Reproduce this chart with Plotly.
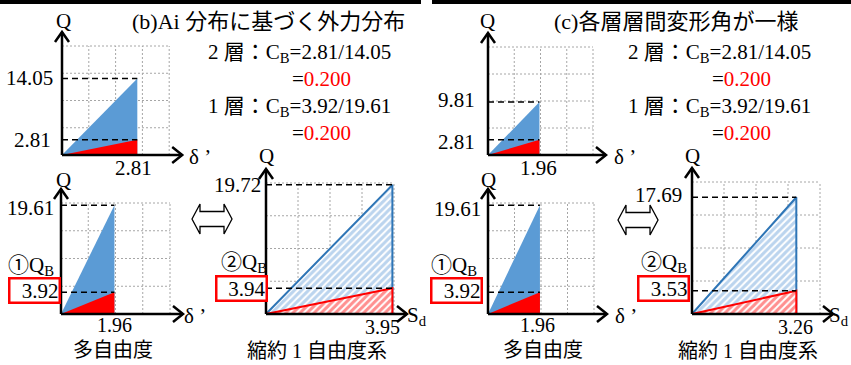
import plotly.graph_objects as go

W, H = 851, 365

# ---- values -------------------------------------------------------------
# panel order: (b) 2F, (b) 1F, (b) reduced SDOF, (c) 2F, (c) 1F, (c) reduced SDOF
disp_values = [2.81, 1.96, 3.95, 1.96, 1.96, 3.26]
shear_total = [14.05, 19.61, 19.72, 9.81, 19.61, 17.69]
shear_base = [2.81, 3.92, 3.94, 2.81, 3.92, 3.53]
x_names = ["δ ’", "δ ’", "S<sub>d</sub>", "δ ’", "δ ’", "S<sub>d</sub>"]
base_tags = [None, "①Q<sub>B</sub>", "②Q<sub>B</sub>", None, "①Q<sub>B</sub>", "②Q<sub>B</sub>"]
captions = [None, "多自由度", "縮約 1 自由度系", None, "多自由度", "縮約 1 自由度系"]
hatched = [False, False, True, False, False, True]
boxed = [False, True, True, False, True, True]

titles = ["(b)Ai 分布に基づく外力分布", "(c)各層層間変形角が一様"]
cb_story = ["2 層", "1 層"]
cb_num = [2.81, 3.92]
cb_den = [14.05, 19.61]

grid_x = [1, 2, 3, 4]
grid_y = [5, 10, 15, 20]
BOX_X, BOX_Y = 4, 20

# ---- panel placement (pixels) ------------------------------------------
geom = [
    dict(ox=62, oy=155, sx=26.8, sy=5.45, q=(63, 21), tot=(-7, 0), base=(-9, 0),
         dsp=(-4, -13), dsz=21, xn=(187, 157)),
    dict(ox=61, oy=314, sx=27.25, sy=5.55, q=(63, 180), tot=(-5, -3), base=(0, 1.5),
         dsp=(0, -11), dsz=20, xn=(182, 316), tag=(31, 266), cap=(113, 350)),
    dict(ox=266, oy=314, sx=32.0, sy=6.55, q=(266, 156), tot=(-3, 0), base=(2, 0),
         dsp=(-10, -13), dsz=20, xn=(405, 316), tag=(244, 263), cap=(317, 351)),
    dict(ox=488, oy=155, sx=26.25, sy=5.4, q=(487, 21), tot=(-11, 2), base=(-11, -2),
         dsp=(-1, -13), dsz=21, xn=(612, 157)),
    dict(ox=488, oy=314, sx=26.5, sy=5.55, q=(488, 180), tot=(-5, -4), base=(-5, 1.5),
         dsp=(-2, -11), dsz=20, xn=(613, 316), tag=(454, 266), cap=(543, 350)),
    dict(ox=692, oy=314, sx=32.0, sy=6.6, q=(692, 156), tot=(-8, 2), base=(-2, 2),
         dsp=(-1, -13), dsz=20, xn=(827, 316), tag=(664, 263), cap=(748, 351)),
]

FONT = "'Times New Roman', 'Liberation Serif', 'Noto Sans CJK JP', serif"
TICK_SIZE = 21
TEXT_SIZE = 21
TITLE_SIZE = 22
CAPTION_SIZE = 20
BLUE = "#5B9BD5"
RED = "#FF0000"

fig = go.Figure()
axes_layout = {}
annotations = []
shapes = []


def paper_ann(px, py, text, xanchor="left", size=TEXT_SIZE, color="black"):
    annotations.append(dict(
        x=px / W, y=1 - py / H, xref="paper", yref="paper", text=text,
        showarrow=False, xanchor=xanchor, yanchor="middle",
        font=dict(family=FONT, size=size, color=color)))


for i, g in enumerate(geom):
    n = i + 1
    xa = "x" if n == 1 else f"x{n}"
    ya = "y" if n == 1 else f"y{n}"
    ox, oy, sx, sy = g["ox"], g["oy"], g["sx"], g["sy"]
    L = ox - 14
    R = ox + BOX_X * sx + 22
    T = oy - BOX_Y * sy - 20
    B = oy + 12
    axes_layout["xaxis" if n == 1 else f"xaxis{n}"] = dict(
        domain=[L / W, R / W], range=[(L - ox) / sx, (R - ox) / sx],
        visible=False, fixedrange=True, anchor=ya)
    axes_layout["yaxis" if n == 1 else f"yaxis{n}"] = dict(
        domain=[1 - B / H, 1 - T / H], range=[(oy - B) / sy, (oy - T) / sy],
        visible=False, fixedrange=True, anchor=xa)

    d, qt, qb = disp_values[i], shear_total[i], shear_base[i]

    # dotted grid
    gx, gy = [], []
    for v in grid_x:
        gx += [v, v, None]
        gy += [0, BOX_Y, None]
    for v in grid_y:
        gx += [0, BOX_X, None]
        gy += [v, v, None]
    fig.add_trace(go.Scatter(x=gx, y=gy, mode="lines", xaxis=xa, yaxis=ya,
                             line=dict(color="#A6A6A6", width=1, dash="2px,2px"),
                             hoverinfo="skip"))

    # total shear triangle and base shear triangle
    if hatched[i]:
        fig.add_trace(go.Scatter(
            x=[0, d, d, 0], y=[0, qt, 0, 0], mode="lines", fill="toself",
            xaxis=xa, yaxis=ya, line=dict(color="#2E75B6", width=2),
            fillcolor="white",
            fillpattern=dict(shape="/", fgcolor="#78AADD", bgcolor="white",
                             size=5, solidity=0.6),
            hoverinfo="skip"))
        fig.add_trace(go.Scatter(
            x=[0, d, d, 0], y=[0, qb, 0, 0], mode="lines", fill="toself",
            xaxis=xa, yaxis=ya, line=dict(color=RED, width=2),
            fillcolor="white",
            fillpattern=dict(shape="/", fgcolor="#FF2020", bgcolor="white",
                             size=5, solidity=0.6),
            hoverinfo="skip"))
    else:
        fig.add_trace(go.Scatter(
            x=[0, d, d, 0], y=[0, qt, 0, 0], mode="lines", fill="toself",
            xaxis=xa, yaxis=ya, line=dict(width=0), fillcolor=BLUE,
            hoverinfo="skip"))
        fig.add_trace(go.Scatter(
            x=[0, d, d, 0], y=[0, qb, 0, 0], mode="lines", fill="toself",
            xaxis=xa, yaxis=ya, line=dict(width=0), fillcolor=RED,
            hoverinfo="skip"))

    # dashed reference levels
    fig.add_trace(go.Scatter(
        x=[0, d, None, 0, d], y=[qt, qt, None, qb, qb], mode="lines",
        xaxis=xa, yaxis=ya, line=dict(color="black", width=1.5, dash="6px,4px"),
        hoverinfo="skip"))

    # axes with open arrow heads
    ytip = BOX_Y + 14 / sy
    xtip = BOX_X + 13 / sx
    ax_x = [0, 0, None, -7 / sx, 0, 7 / sx, None,
            0, xtip, None, xtip - 10 / sx, xtip, xtip - 10 / sx]
    ax_y = [0, ytip, None, ytip - 10 / sy, ytip, ytip - 10 / sy, None,
            0, 0, None, 8 / sy, 0, -8 / sy]
    fig.add_trace(go.Scatter(x=ax_x, y=ax_y, mode="lines", xaxis=xa, yaxis=ya,
                             line=dict(color="black", width=2.5),
                             hoverinfo="skip"))

    # value labels
    annotations.append(dict(
        x=0, y=qt, xref=xa, yref=ya, text=f"{qt:.2f}", showarrow=False,
        xanchor="right", yanchor="middle", xshift=g["tot"][0], yshift=g["tot"][1],
        font=dict(family=FONT, size=TICK_SIZE, color="black")))
    if boxed[i]:
        annotations.append(dict(
            x=0, y=qb, xref=xa, yref=ya, text=f"{qb:.2f}", showarrow=False,
            xanchor="right", yanchor="middle", xshift=g["base"][0], yshift=g["base"][1],
            align="right", width=48, height=22, borderpad=0,
            bordercolor=RED, borderwidth=2.5, bgcolor="white",
            font=dict(family=FONT, size=TICK_SIZE, color="black")))
    else:
        annotations.append(dict(
            x=0, y=qb, xref=xa, yref=ya, text=f"{qb:.2f}", showarrow=False,
            xanchor="right", yanchor="middle", xshift=g["base"][0], yshift=g["base"][1],
            font=dict(family=FONT, size=TICK_SIZE, color="black")))
    annotations.append(dict(
        x=d, y=0, xref=xa, yref=ya, text=f"{d:.2f}", showarrow=False,
        xanchor="center", yanchor="middle", xshift=g["dsp"][0], yshift=g["dsp"][1],
        font=dict(family=FONT, size=g["dsz"], color="black")))

    paper_ann(g["q"][0], g["q"][1], "Q", xanchor="center")
    paper_ann(g["xn"][0], g["xn"][1], x_names[i], xanchor="left")
    if base_tags[i]:
        paper_ann(g["tag"][0], g["tag"][1], base_tags[i], xanchor="center")
    if captions[i]:
        paper_ann(g["cap"][0], g["cap"][1], captions[i], xanchor="center",
                  size=CAPTION_SIZE)

# headings and C_B ratios for each case
for k, x0 in enumerate([0, 420]):
    paper_ann(130 + x0 + (2 if k else 0), 22, titles[k], xanchor="left",
              size=TITLE_SIZE)
    for j, yy in enumerate([53, 107]):
        paper_ann(206 + x0, yy,
                  f"{cb_story[j]}：C<sub>B</sub>={cb_num[j]:.2f}/{cb_den[j]:.2f}")
        ratio = cb_num[j] / cb_den[j]
        paper_ann(290 + x0, yy + 26,
                  f"=<span style='color:{RED}'>{ratio:.3f}</span>")

# hollow double arrows between the multi-DOF and reduced models
for (tx, ty) in [(192, 219), (618, 220)]:
    pts = [(0, 0), (8, -15), (8, -7.5), (32, -7.5), (32, -15), (40, 0),
           (32, 15), (32, 7.5), (8, 7.5), (8, 15)]
    path = "M " + " L ".join(f"{(tx + a) / W:.5f},{1 - (ty + b) / H:.5f}" for a, b in pts) + " Z"
    shapes.append(dict(type="path", path=path, xref="paper", yref="paper",
                       line=dict(color="black", width=1.3), fillcolor="white"))

# rule bars along the top edge
for (a, b) in [(0, 421), (432, 851)]:
    shapes.append(dict(type="rect", xref="paper", yref="paper",
                       x0=a / W, x1=b / W, y0=1 - 4 / H, y1=1,
                       line=dict(width=0), fillcolor="black"))

fig.update_layout(
    width=W, height=H, margin=dict(l=0, r=0, t=0, b=0),
    paper_bgcolor="white", plot_bgcolor="rgba(0,0,0,0)",
    showlegend=False, annotations=annotations, shapes=shapes,
    **axes_layout)

fig.write_html("out.html")
